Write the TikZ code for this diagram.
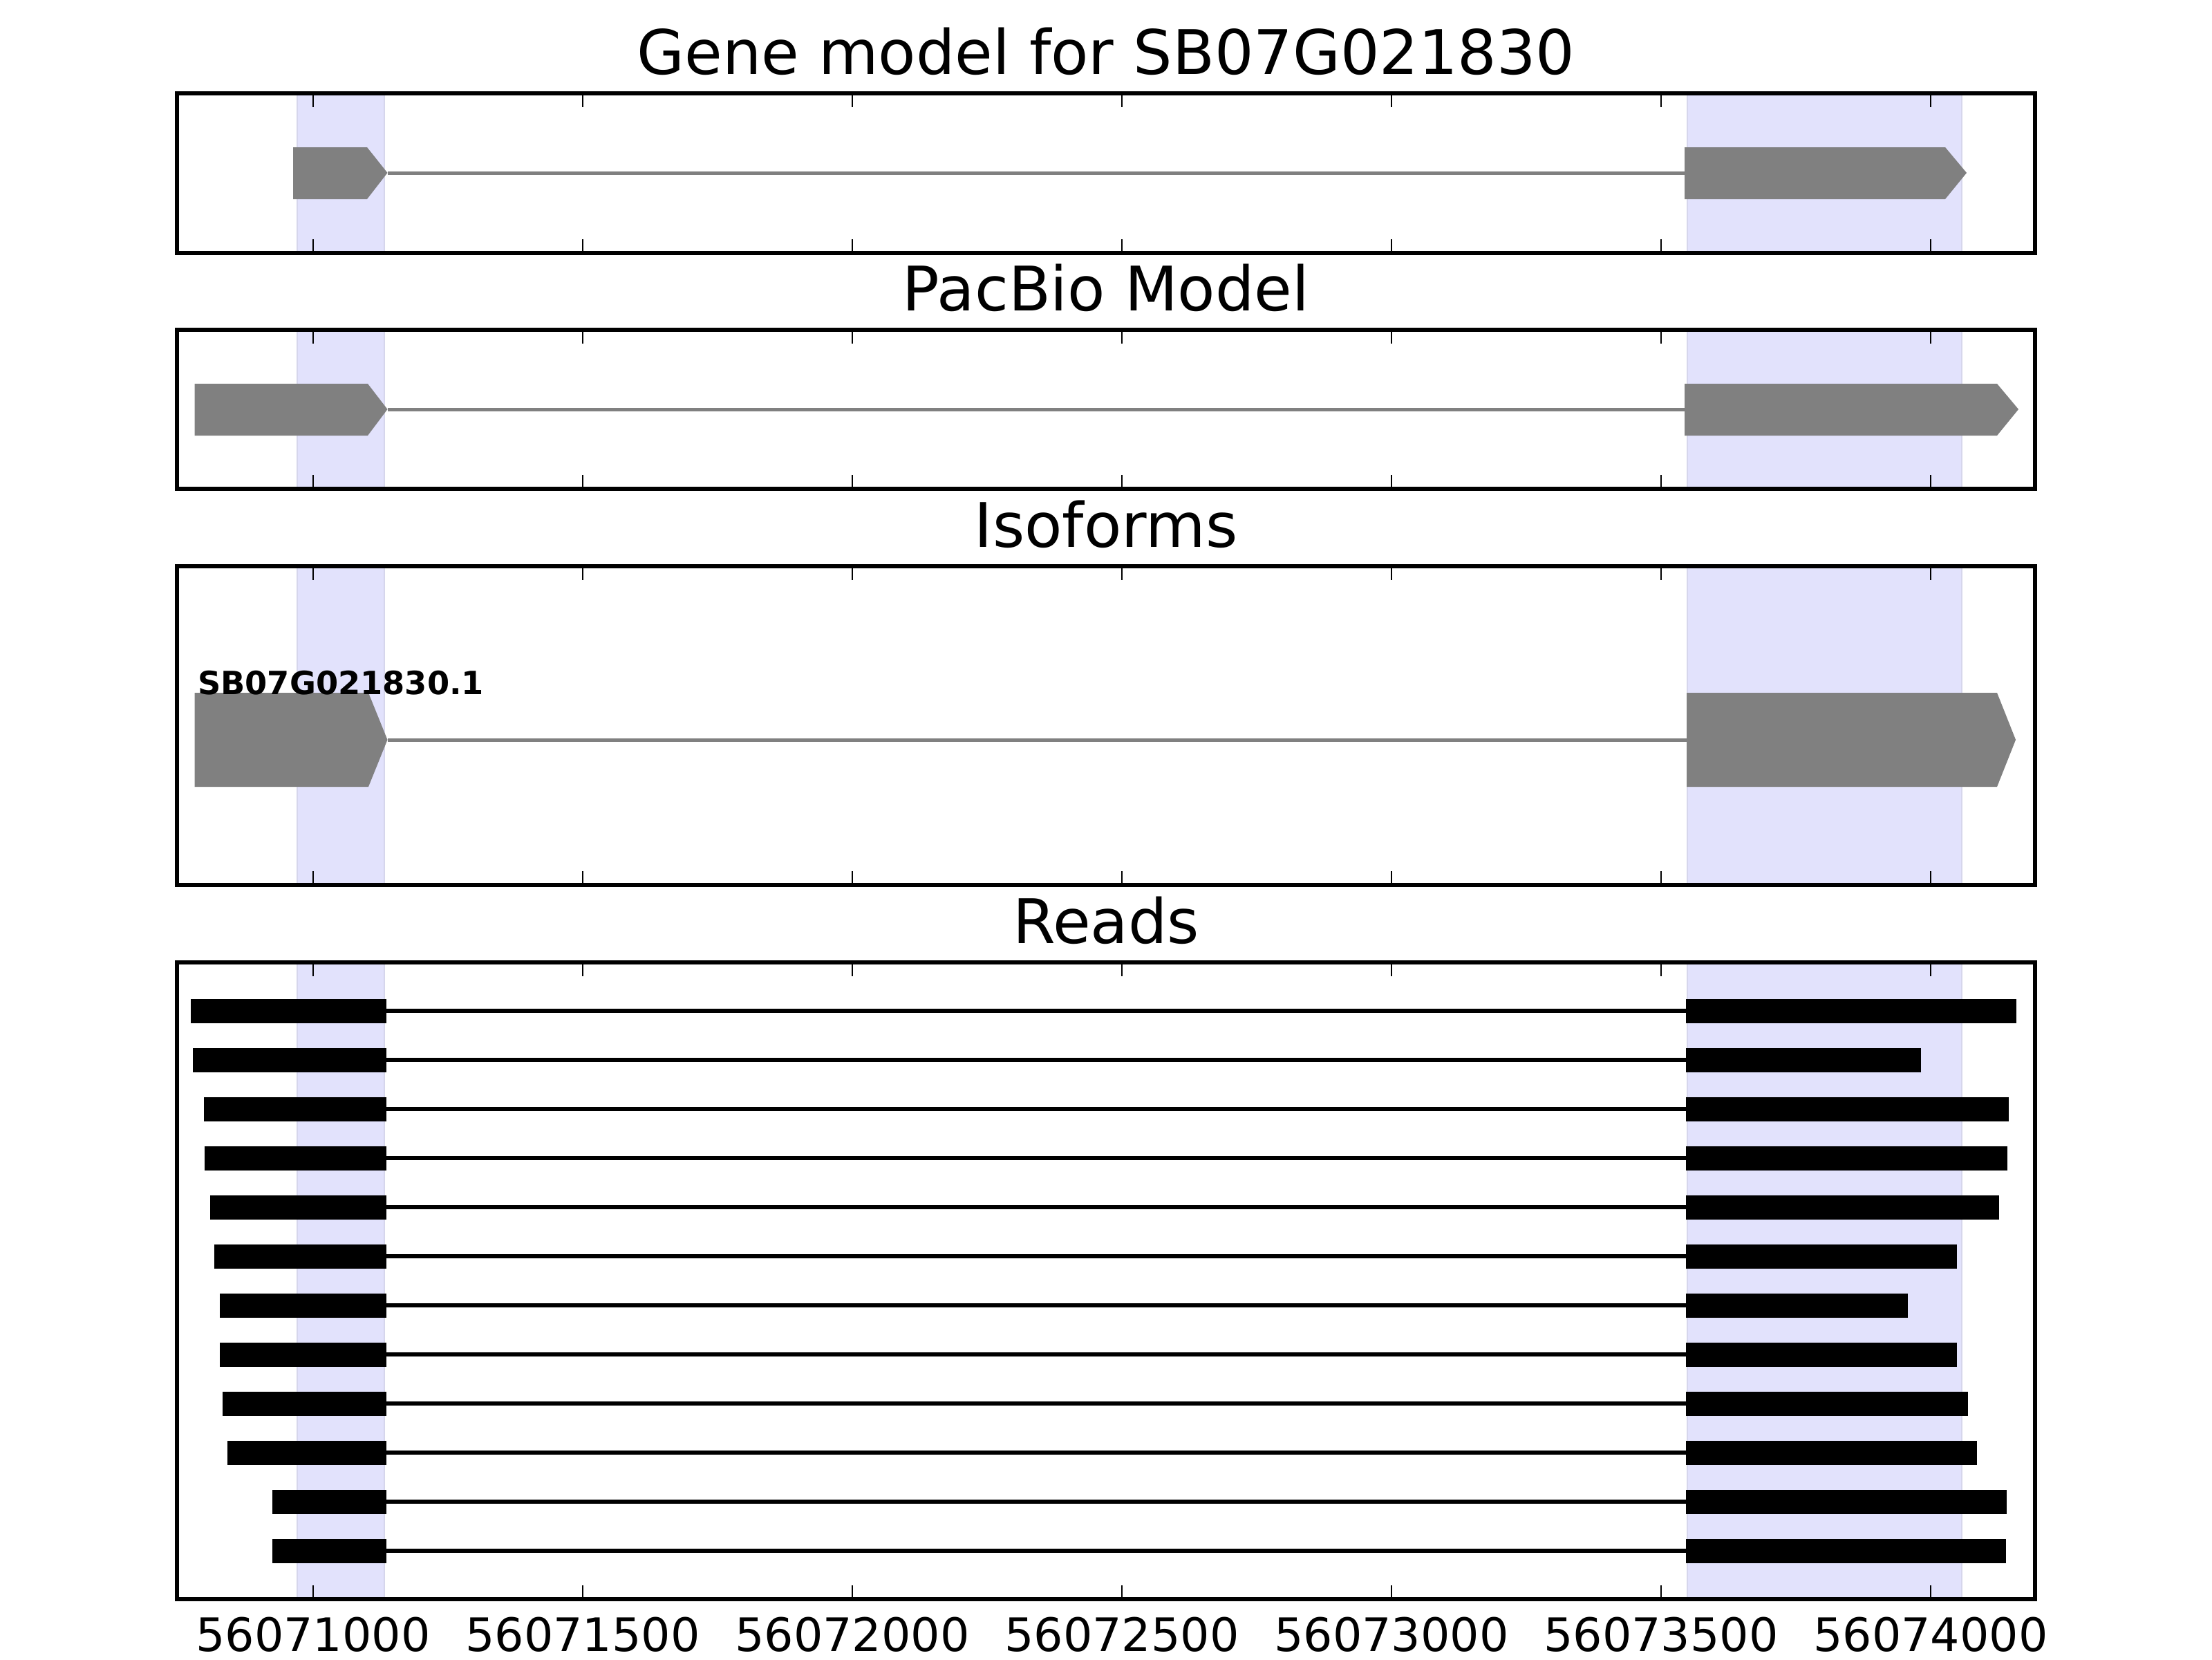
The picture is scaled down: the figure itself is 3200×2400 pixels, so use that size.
\documentclass[tikz,border=0pt]{standalone}
\usepackage{fontspec}
\setmainfont{DejaVu Sans}
\definecolor{shade}{RGB}{226,226,252}
\definecolor{shadeedge}{RGB}{214,214,236}
\definecolor{exongray}{RGB}{128,128,128}
\tikzset{
  frame/.style={draw=black, line width=0.95pt},
  tickmark/.style={draw=black, line width=0.5pt},
  exon/.style={fill=exongray},
  grayintron/.style={draw=exongray, line width=0.9pt},
  readintron/.style={draw=black, line width=0.95pt},
  readblock/.style={fill=black},
  band/.style={fill=shade, draw=shadeedge, line width=0.35pt},
  paneltitle/.style={anchor=base, inner sep=0pt, font=\fontsize{16}{19}\selectfont},
  ticklabel/.style={anchor=base, inner sep=0pt, font=\fontsize{12}{14}\selectfont},
  isolabel/.style={anchor=base west, inner sep=0pt, font=\fontsize{8.33}{10}\selectfont\bfseries}
}
\begin{document}
\begin{tikzpicture}[x=0.18pt, y=-0.18pt]
\useasboundingbox (0,0) rectangle (3200,2400);
\fill[white] (0,0) rectangle (3200,2400);

% panels: left / right x
\def\axL{256}
\def\axR{2944}

% shaded exon bands in every panel
\foreach \t/\b in {135/366, 477/707, 819/1280, 1392/2313} {
  \path[band] (430,\t) rectangle (556,\b);
  \path[band] (2441,\t) rectangle (2838,\b);
}

% ---------- Panel 1: gene model ----------
\node[paneltitle] (t1) at (1600,107) {Gene model for SB07G021830};
\coordinate (g1e) at (560.5,250);
\coordinate (g2s) at (2437,250);
\draw[grayintron] (g1e) -- (g2s);
\fill[exon] (424,213) -- (531,213) -- (g1e) -- (531,288) -- (424,288) -- cycle;
\fill[exon] (2437,213) -- (2814,213) -- (2845,250) -- (2814,288) -- (2437,288) -- cycle;

% ---------- Panel 2: PacBio model ----------
\node[paneltitle] (t2) at (1600,449) {PacBio Model};
\coordinate (p1e) at (560.5,592);
\coordinate (p2s) at (2437,592);
\draw[grayintron] (p1e) -- (p2s);
\fill[exon] (281.5,555) -- (532,555) -- (p1e) -- (532,630) -- (281.5,630) -- cycle;
\fill[exon] (2437,555) -- (2889,555) -- (2920,592) -- (2889,630) -- (2437,630) -- cycle;

% ---------- Panel 3: Isoforms ----------
\node[paneltitle] (t3) at (1600,791) {Isoforms};
\coordinate (i1e) at (560.5,1070);
\coordinate (i2s) at (2440,1070);
\draw[grayintron] (i1e) -- (i2s);
\fill[exon] (281.5,1002) -- (533,1002) -- (i1e) -- (533,1138) -- (281.5,1138) -- cycle;
\fill[exon] (2440,1002) -- (2889,1002) -- (2916,1070) -- (2889,1138) -- (2440,1138) -- cycle;
\node[isolabel] (iso) at (285,1004) {SB07G021830.1};

% ---------- Panel 4: Reads ----------
\node[paneltitle] (t4) at (1600,1364) {Reads};
\foreach \i/\l/\r in {1/276/2917, 2/279/2779, 3/295/2906, 4/296/2904, 5/304/2892, 6/310/2831,
                      7/318/2760, 8/318/2831, 9/322/2847, 10/329/2860, 11/394/2903, 12/394/2902} {
  \pgfmathsetmacro\yy{1462+(\i-1)*71}
  \coordinate (r\i a) at (559,\yy);
  \coordinate (r\i b) at (2439,\yy);
  \draw[readintron] (r\i a) -- (r\i b);
  \fill[readblock] (\l,\yy-17.5) rectangle (559,\yy+17.5);
  \fill[readblock] (2439,\yy-17.5) rectangle (\r,\yy+17.5);
}

% ---------- frames and ticks ----------
\foreach \t/\b in {135/366, 477/707, 819/1280, 1392/2313} {
  \foreach \k in {0,...,6} {
    \pgfmathsetmacro\xx{453+\k*390}
    \draw[tickmark] (\xx,\t) -- (\xx,\t+20);
    \draw[tickmark] (\xx,\b) -- (\xx,\b-20);
  }
  \draw[frame] (\axL,\t) rectangle (\axR,\b);
}

% tick labels
\foreach \k/\lab in {0/56071000, 1/56071500, 2/56072000, 3/56072500, 4/56073000, 5/56073500, 6/56074000} {
  \pgfmathsetmacro\xx{453+\k*390}
  \node[ticklabel] (tl\k) at (\xx,2388) {\lab};
}
\end{tikzpicture}
\end{document}
